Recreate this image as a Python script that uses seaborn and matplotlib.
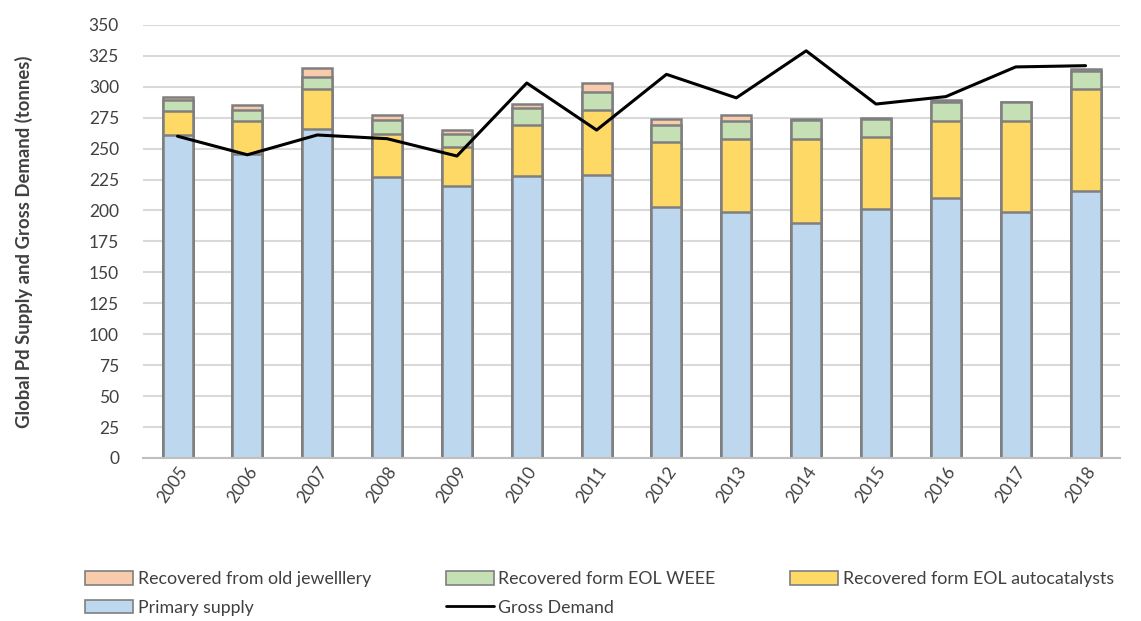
import numpy as np
import pandas as pd
import matplotlib
matplotlib.use("Agg")
import matplotlib.pyplot as plt
import seaborn as sns
from matplotlib.patches import Patch
from matplotlib.lines import Line2D

years = ["2005", "2006", "2007", "2008", "2009", "2010", "2011",
         "2012", "2013", "2014", "2015", "2016", "2017", "2018"]
primary = [261, 246, 266, 227, 220, 228, 229, 203, 199, 190, 201, 210, 199, 216]
autocat = [19, 26, 32, 35, 31, 41, 52, 52, 59, 68, 58, 62, 73, 82]
weee = [9, 9, 10, 11, 11, 14, 15, 14, 14, 15, 15, 16, 16, 15]
jewel = [3, 4, 7, 4, 3, 3, 7, 5, 5, 1, 1, 1, 0, 1]
demand = [260, 245, 261, 258, 244, 303, 265, 310, 291, 329, 286, 292, 316, 317]

labels = ["Recovered from old jewelllery", "Recovered form EOL WEEE",
          "Recovered form EOL autocatalysts", "Primary supply", "Gross Demand"]
colors = {"jewel": "#F8CBAD", "weee": "#C5E0B4", "auto": "#FFD966", "primary": "#BDD7EE"}
edge = "#7F7F7F"

sns.set_style("white")
plt.rcParams["font.family"] = ["Lato", "DejaVu Sans"]

df = pd.DataFrame({"year": years, "primary": primary, "auto": autocat,
                   "weee": weee, "jewel": jewel, "demand": demand})
df["c_primary"] = df["primary"]
df["c_auto"] = df["c_primary"] + df["auto"]
df["c_weee"] = df["c_auto"] + df["weee"]
df["c_jewel"] = df["c_weee"] + df["jewel"]

fig = plt.figure(figsize=(11.41, 6.21), dpi=100)
ax = fig.add_axes([0.125, 0.2625, 0.857, 0.6975])

for key in ["jewel", "weee", "auto", "primary"]:
    sns.barplot(data=df, x="year", y="c_" + key, color=colors[key], saturation=1,
                edgecolor=edge, linewidth=1.8, width=0.43, ax=ax, zorder=2)

sns.pointplot(data=df, x="year", y="demand", color="black", markers="",
              linestyles="-", linewidth=2.2, ax=ax, zorder=3)

ax.set_ylim(0, 350)
ax.set_xlim(-0.5, len(years) - 0.5)
ax.set_yticks(np.arange(0, 351, 25))
ax.yaxis.grid(True, color="#D9D9D9", linewidth=1.5, zorder=0)
ax.set_axisbelow(True)
for s in ["top", "right", "left"]:
    ax.spines[s].set_visible(False)
ax.spines["bottom"].set_color("#BFBFBF")
ax.spines["bottom"].set_linewidth(1.5)
ax.tick_params(axis="y", length=0, labelsize=12.5, colors="#404040", pad=17)
ax.tick_params(axis="x", length=0, labelsize=12.5, colors="#404040", pad=4)
plt.setp(ax.get_xticklabels(), rotation=55, ha="right", rotation_mode="anchor")
ax.set_xlabel("")
ax.set_ylabel("Global Pd Supply and Gross Demand (tonnes)", fontsize=13.3,
              fontweight="bold", color="#404040", labelpad=40)

h_jewel = Patch(facecolor=colors["jewel"], edgecolor=edge, linewidth=1.2)
h_weee = Patch(facecolor=colors["weee"], edgecolor=edge, linewidth=1.2)
h_auto = Patch(facecolor=colors["auto"], edgecolor=edge, linewidth=1.2)
h_prim = Patch(facecolor=colors["primary"], edgecolor=edge, linewidth=1.2)
h_dem = Line2D([0], [0], color="black", linewidth=2)
handles = [h_jewel, h_prim, h_weee, h_dem, h_auto]
labs = [labels[0], labels[3], labels[1], labels[4], labels[2]]
fig.legend(handles, labs, loc="lower left", ncol=3,
           bbox_to_anchor=(80 / 1141, 0.0), frameon=False, borderpad=0.2,
           fontsize=12.8, handlelength=2.7, handleheight=0.8, handletextpad=0.25,
           labelspacing=0.7, columnspacing=4.2, borderaxespad=0.1,
           labelcolor="#404040")

fig.savefig("out.png", dpi=100)
